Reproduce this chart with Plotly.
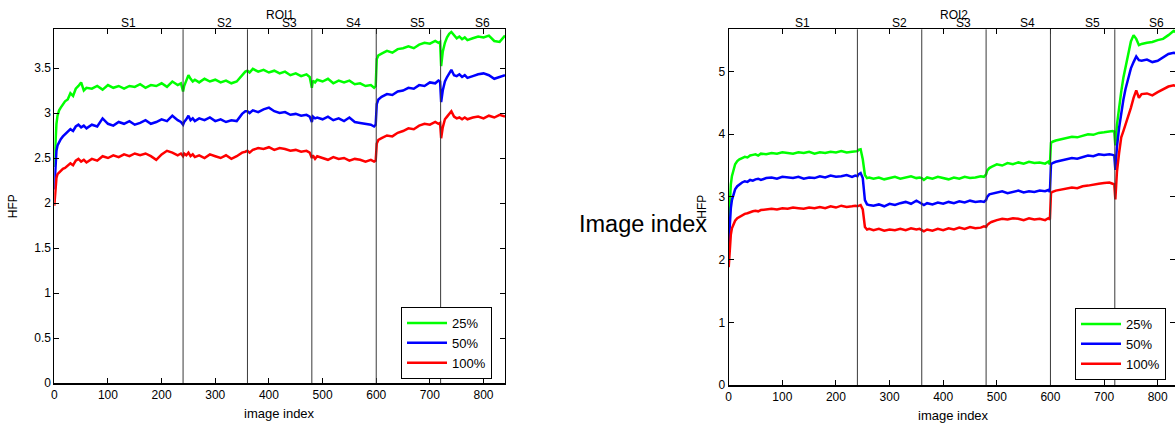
import plotly.graph_objects as go

# ---------------- data ----------------
IMAGE_INDEX = [0, 2, 4, 6, 9, 12, 16, 20, 25, 30, 35, 40, 45, 50, 55, 60,
               70, 80, 90, 100, 110, 120, 130, 140, 150, 160, 170, 180, 190, 200, 210, 220, 230, 236,
               240, 242, 246, 250, 254, 258, 262, 270, 280, 290, 300, 310, 320, 330, 340, 350, 356,
               360, 364, 370, 380, 390, 400, 410, 420, 430, 440, 450, 460, 470, 476,
               480, 482, 486, 490, 500, 510, 520, 530, 540, 550, 560, 570, 580, 590, 596, 599,
               601, 604, 610, 620, 630, 640, 650, 660, 670, 680, 690, 700, 710, 716, 719,
               721, 724, 728, 732, 736, 740, 745, 750, 755, 760, 765, 770, 780, 790, 800, 810, 820, 830, 840]

ROI1_25 = [2.40, 2.72, 2.88, 2.97, 3.03, 3.06, 3.10, 3.13, 3.15, 3.22, 3.19, 3.27, 3.30, 3.34, 3.25, 3.28,
           3.27, 3.30, 3.26, 3.31, 3.28, 3.30, 3.27, 3.30, 3.29, 3.32, 3.28, 3.31, 3.30, 3.33, 3.29, 3.35, 3.31, 3.33,
           3.24, 3.30, 3.36, 3.42, 3.38, 3.35, 3.37, 3.34, 3.38, 3.35, 3.37, 3.34, 3.36, 3.33, 3.35, 3.42, 3.46,
           3.47, 3.45, 3.49, 3.46, 3.48, 3.45, 3.47, 3.44, 3.46, 3.42, 3.44, 3.41, 3.43, 3.40,
           3.28, 3.36, 3.34, 3.37, 3.35, 3.38, 3.33, 3.36, 3.34, 3.36, 3.32, 3.33, 3.30, 3.31, 3.28, 3.30,
           3.60, 3.64, 3.66, 3.69, 3.67, 3.71, 3.72, 3.74, 3.72, 3.76, 3.78, 3.77, 3.80, 3.78, 3.79,
           3.52, 3.68, 3.78, 3.84, 3.88, 3.90, 3.86, 3.83, 3.85, 3.82, 3.84, 3.81, 3.83, 3.85, 3.84, 3.86, 3.80, 3.79, 3.86]

ROI1_50 = [2.15, 2.45, 2.58, 2.64, 2.68, 2.71, 2.74, 2.76, 2.79, 2.82, 2.80, 2.85, 2.87, 2.84, 2.86, 2.83,
           2.87, 2.85, 2.94, 2.88, 2.86, 2.90, 2.88, 2.91, 2.87, 2.89, 2.92, 2.88, 2.90, 2.93, 2.91, 2.97, 2.92, 2.90,
           2.87, 2.90, 2.93, 2.97, 2.92, 2.94, 2.91, 2.94, 2.92, 2.95, 2.91, 2.93, 2.90, 2.92, 2.91, 2.99, 3.02,
           3.02, 3.00, 3.03, 3.01, 3.04, 3.06, 3.02, 3.00, 3.01, 2.98, 2.99, 2.97, 2.98, 2.96,
           2.90, 2.96, 2.94, 2.95, 2.93, 2.96, 2.92, 2.94, 2.91, 2.95, 2.90, 2.89, 2.88, 2.87, 2.85, 2.87,
           3.10, 3.15, 3.18, 3.21, 3.20, 3.24, 3.25, 3.28, 3.27, 3.31, 3.30, 3.34, 3.33, 3.36, 3.35,
           3.12, 3.25, 3.35, 3.40, 3.44, 3.48, 3.42, 3.41, 3.43, 3.40, 3.42, 3.39, 3.41, 3.43, 3.44, 3.42, 3.38, 3.40, 3.42]

ROI1_100 = [1.97, 2.20, 2.28, 2.32, 2.34, 2.36, 2.38, 2.39, 2.41, 2.44, 2.42, 2.47, 2.49, 2.46, 2.48, 2.45,
            2.49, 2.47, 2.52, 2.50, 2.53, 2.51, 2.54, 2.52, 2.55, 2.53, 2.55, 2.52, 2.48, 2.54, 2.58, 2.56, 2.53, 2.55,
            2.52, 2.55, 2.53, 2.56, 2.52, 2.54, 2.51, 2.53, 2.50, 2.54, 2.52, 2.50, 2.53, 2.49, 2.52, 2.56, 2.57,
            2.58, 2.56, 2.59, 2.61, 2.60, 2.62, 2.59, 2.61, 2.60, 2.58, 2.59, 2.57, 2.58, 2.56,
            2.50, 2.53, 2.49, 2.52, 2.50, 2.48, 2.51, 2.49, 2.50, 2.47, 2.49, 2.48, 2.46, 2.48, 2.46, 2.47,
            2.66, 2.70, 2.72, 2.75, 2.74, 2.78, 2.80, 2.83, 2.82, 2.86, 2.88, 2.87, 2.90, 2.88, 2.89,
            2.72, 2.84, 2.93, 2.96, 2.99, 3.02, 2.96, 2.94, 2.95, 2.93, 2.95, 2.93, 2.95, 2.96, 2.94, 2.97, 2.95, 2.98, 2.96]

ROI2_25 = [2.55, 2.95, 3.20, 3.33, 3.45, 3.52, 3.57, 3.60, 3.62, 3.64, 3.63, 3.66, 3.67, 3.68, 3.66, 3.69,
           3.68, 3.70, 3.69, 3.71, 3.70, 3.69, 3.71, 3.70, 3.72, 3.69, 3.71, 3.70, 3.72, 3.71, 3.73, 3.71, 3.72, 3.73,
           3.73, 3.75, 3.76, 3.60, 3.35, 3.30, 3.31, 3.29, 3.31, 3.28, 3.30, 3.32, 3.29, 3.31, 3.33, 3.30, 3.31,
           3.30, 3.27, 3.31, 3.29, 3.32, 3.30, 3.28, 3.31, 3.29, 3.32, 3.30, 3.31, 3.33, 3.32,
           3.36, 3.42, 3.46, 3.48, 3.52, 3.50, 3.54, 3.52, 3.55, 3.53, 3.56, 3.54, 3.55, 3.53, 3.56, 3.52,
           3.86, 3.88, 3.90, 3.92, 3.94, 3.96, 3.95, 3.98, 4.00, 3.99, 4.02, 4.03, 4.04, 4.05, 4.04,
           3.82, 4.15, 4.45, 4.68, 4.90, 5.05, 5.28, 5.48, 5.58, 5.52, 5.42, 5.44, 5.46, 5.47, 5.50, 5.52, 5.58, 5.65, 5.60]

ROI2_50 = [2.25, 2.60, 2.82, 2.95, 3.05, 3.12, 3.17, 3.20, 3.23, 3.25, 3.24, 3.27, 3.26, 3.28, 3.29, 3.27,
           3.30, 3.31, 3.29, 3.32, 3.31, 3.30, 3.32, 3.29, 3.31, 3.30, 3.33, 3.31, 3.34, 3.32, 3.33, 3.35, 3.32, 3.34,
           3.33, 3.36, 3.38, 3.30, 2.95, 2.88, 2.87, 2.86, 2.88, 2.85, 2.89, 2.87, 2.90, 2.92, 2.89, 2.94, 2.91,
           2.89, 2.87, 2.90, 2.88, 2.91, 2.89, 2.92, 2.90, 2.93, 2.91, 2.94, 2.92, 2.93, 2.92,
           2.95, 3.00, 3.04, 3.05, 3.07, 3.09, 3.06, 3.08, 3.10, 3.07, 3.09, 3.08, 3.10, 3.09, 3.11, 3.08,
           3.52, 3.54, 3.56, 3.58, 3.60, 3.62, 3.61, 3.64, 3.66, 3.65, 3.68, 3.67, 3.68, 3.67, 3.66,
           3.43, 3.80, 4.10, 4.35, 4.55, 4.72, 4.90, 5.05, 5.15, 5.24, 5.18, 5.17, 5.19, 5.15, 5.17, 5.23, 5.28, 5.30, 5.27]

ROI2_100 = [1.88, 2.20, 2.40, 2.50, 2.57, 2.62, 2.66, 2.68, 2.71, 2.73, 2.74, 2.76, 2.77, 2.78, 2.77, 2.79,
            2.80, 2.81, 2.80, 2.82, 2.81, 2.83, 2.82, 2.81, 2.83, 2.82, 2.84, 2.82, 2.85, 2.83, 2.86, 2.84, 2.85, 2.86,
            2.85, 2.86, 2.87, 2.80, 2.52, 2.48, 2.49, 2.47, 2.49, 2.46, 2.48, 2.47, 2.49, 2.47, 2.50, 2.48, 2.49,
            2.47, 2.45, 2.48, 2.46, 2.49, 2.47, 2.50, 2.48, 2.51, 2.49, 2.52, 2.50, 2.51, 2.53,
            2.52, 2.55, 2.58, 2.60, 2.63, 2.65, 2.64, 2.66, 2.65, 2.63, 2.66, 2.64, 2.65, 2.63, 2.66, 2.64,
            3.06, 3.08, 3.10, 3.12, 3.13, 3.15, 3.14, 3.17, 3.18, 3.20, 3.21, 3.22, 3.23, 3.21, 3.20,
            2.96, 3.40, 3.70, 3.95, 4.05, 4.15, 4.30, 4.42, 4.58, 4.70, 4.58, 4.64, 4.65, 4.62, 4.67, 4.72, 4.76, 4.78, 4.75]

SERIES_NAMES = ["25%", "50%", "100%"]
SERIES_COLORS = ["#00ff00", "#0000ff", "#ff0000"]
SECTION_LABELS = ["S1", "S2", "S3", "S4", "S5", "S6"]
SECTION_EDGES = [0, 240, 360, 480, 600, 720, 840]
X_TICKS = [0, 100, 200, 300, 400, 500, 600, 700, 800]

# ---------------- figure ----------------
W, H = 1175, 423
FONT = "Liberation Sans, Arial, sans-serif"


def px_x(p):
    return p / W


def px_y(p):
    return 1 - p / H


panels = [
    dict(title="ROI1", data=[ROI1_25, ROI1_50, ROI1_100], xa="x", ya="y", leg="legend",
         xdom=[px_x(54.3), px_x(505)], ydom=[px_y(383), px_y(29.3)],
         xr=[0, 840], yr=[0, 3.93], dtick=0.5, hfp_x=13, leg_xy=(401, 307), xl_y=413),
    dict(title="ROI2", data=[ROI2_25, ROI2_50, ROI2_100], xa="x2", ya="y2", leg="legend2",
         xdom=[px_x(728.7), 1.0], ydom=[px_y(385), px_y(29.3)],
         xr=[0, (W - 728.7) / 0.53625], yr=[0, 5.673], dtick=1, hfp_x=702.5, leg_xy=(1075, 308), xl_y=415),
]

fig = go.Figure()
shapes = []
annotations = []
layout = {}

for i, p in enumerate(panels):
    for vals, name, col in zip(p["data"], SERIES_NAMES, SERIES_COLORS):
        n = min(len(IMAGE_INDEX), len(vals))
        fig.add_trace(go.Scatter(x=IMAGE_INDEX[:n], y=vals[:n], mode="lines", name=name,
                                 line=dict(color=col, width=2.5), xaxis=p["xa"], yaxis=p["ya"],
                                 legend=p["leg"]))
    axis_common = dict(showline=True, linecolor="black", mirror="ticks", ticks="inside",
                       ticklen=5, tickcolor="black", tickwidth=1, showgrid=False, zeroline=False,
                       automargin=False,
                       tickfont=dict(size=12, color="black", family=FONT))
    suffix = "" if i == 0 else "2"
    layout["xaxis" + suffix] = dict(axis_common, domain=p["xdom"], range=p["xr"], tickvals=X_TICKS,
                                    anchor=p["ya"], linewidth=1.5)
    layout["yaxis" + suffix] = dict(axis_common, domain=p["ydom"], range=p["yr"], dtick=p["dtick"],
                                    tick0=0, anchor=p["xa"], linewidth=1)
    # section boundary lines
    for b in SECTION_EDGES[1:-1]:
        shapes.append(dict(type="line", xref=p["xa"], yref=p["ya"] + " domain", x0=b, x1=b, y0=0, y1=1,
                           line=dict(color="#3a3a3a", width=1)))
    # section labels
    for k, lab in enumerate(SECTION_LABELS):
        c = (SECTION_EDGES[k] + SECTION_EDGES[k + 1]) / 2
        annotations.append(dict(text=lab, xref=p["xa"], x=c, xanchor="left", yref="paper",
                                y=p["ydom"][1], yanchor="bottom", yshift=-3, showarrow=False,
                                font=dict(size=12, color="black")))
    mid = (p["xr"][0] + 840) / 2
    annotations.append(dict(text=p["title"], xref=p["xa"], x=mid, xanchor="center", yref="paper",
                            y=px_y(15.5), yanchor="middle", showarrow=False,
                            font=dict(size=12, color="black")))
    annotations.append(dict(text="image index", xref=p["xa"], x=mid, xanchor="center", yref="paper",
                            y=px_y(p["xl_y"]), yanchor="middle", showarrow=False,
                            font=dict(size=13, color="black")))
    annotations.append(dict(text="HFP", xref="paper", x=px_x(p["hfp_x"]), xanchor="center", yref="paper",
                            y=(p["ydom"][0] + p["ydom"][1]) / 2, yanchor="middle", textangle=-90,
                            showarrow=False, font=dict(size=12, color="black")))
    layout[p["leg"]] = dict(x=px_x(p["leg_xy"][0]), y=px_y(p["leg_xy"][1]), xanchor="left", yanchor="top",
                            bordercolor="black", borderwidth=1, bgcolor="white",
                            font=dict(size=13, color="black"), tracegroupgap=0, itemwidth=40)

annotations.append(dict(text="Image index", xref="paper", x=px_x(577), xanchor="left", yref="paper",
                        y=px_y(224), yanchor="middle", showarrow=False,
                        font=dict(size=23.5, color="black")))

fig.update_layout(template="none", width=W, height=H, margin=dict(l=0, r=0, t=0, b=0, pad=0),
                  autosize=False, paper_bgcolor="white", plot_bgcolor="white",
                  font=dict(family=FONT, color="black"),
                  shapes=shapes, annotations=annotations, showlegend=True, **layout)

fig.write_html("out.html", config={"displayModeBar": False, "staticPlot": True},
               post_script="document.body.style.margin='0';document.body.style.padding='0';"
                           "document.documentElement.style.overflow='hidden';")
